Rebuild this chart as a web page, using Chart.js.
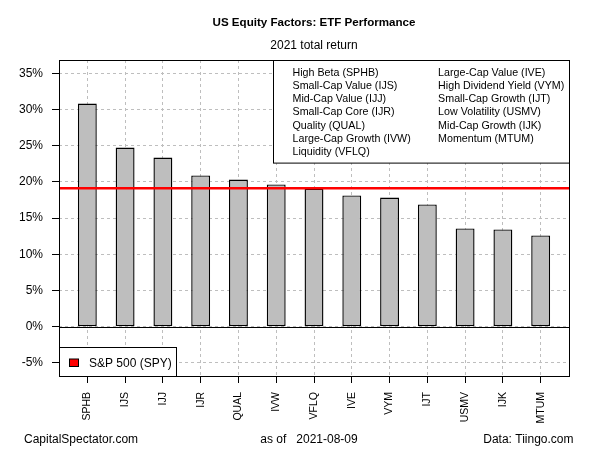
<!DOCTYPE html>
<html>
<head>
<meta charset="utf-8">
<script src="https://cdn.jsdelivr.net/npm/chart.js@4.4.0/dist/chart.umd.min.js"></script>
<style>
html,body{margin:0;padding:0;background:#ffffff;}
#wrap{width:600px;height:450px;position:relative;}
canvas{display:block;}
</style>
</head>
<body>
<div id="wrap"><canvas id="c" width="600" height="450"></canvas></div>
<script>
// ---- data ----
const tickers = ["SPHB","IJS","IJJ","IJR","QUAL","IVW","VFLQ","IVE","VYM","IJT","USMV","IJK","MTUM"];
const returns2021 = [30.83,24.76,23.38,20.90,20.34,19.66,19.10,18.14,17.86,16.90,13.59,13.45,12.62];
const spyReturn = 19.14;
const yTickValues = [-5,0,5,10,15,20,25,30,35];
const factorNames = ["High Beta","Small-Cap Value","Mid-Cap Value","Small-Cap Core","Quality","Large-Cap Growth","Liquidity",
                     "Large-Cap Value","High Dividend Yield","Small-Cap Growth","Low Volatility","Mid-Cap Growth","Momentum"];
const chartTitle = "US Equity Factors: ETF Performance";
const chartSubtitle = "2021 total return";
const footerLeft = "CapitalSpectator.com";
const footerCenter = "as of   2021-08-09";
const footerRight = "Data: Tiingo.com";
const benchmarkLabel = "S&P 500 (SPY)";

// ---- layout helpers ----
const FONT = '"Liberation Sans", Arial, Helvetica, sans-serif';
const slotPos = i => 1.5 + 2 * i;           // barplot-style slot centres (space = 1)
const xMin = 0, xMax = 2 * tickers.length + 1;

const decor = {
  id: 'decor',
  beforeDraw(chart) {
    const ctx = chart.ctx;
    ctx.save();
    ctx.fillStyle = '#ffffff';
    ctx.fillRect(0, 0, chart.width, chart.height);
    ctx.restore();
  },
  afterDatasetsDraw(chart) {
    const ctx = chart.ctx, a = chart.chartArea, ys = chart.scales.y;
    ctx.save();
    // zero line
    const y0 = Math.round(ys.getPixelForValue(0)) + 0.5;
    ctx.strokeStyle = '#000'; ctx.lineWidth = 1; ctx.setLineDash([]);
    ctx.beginPath(); ctx.moveTo(a.left, y0); ctx.lineTo(a.right, y0); ctx.stroke();

    // top-right legend
    const lw = 296.5, lh = 102.6;
    const lx = Math.round(a.right - lw) + 0.5, ly = Math.round(a.top) + 0.5;
    ctx.fillStyle = '#fff'; ctx.fillRect(lx, ly, lw, lh);
    ctx.strokeRect(lx, ly, Math.round(a.right) + 0.5 - lx, lh);
    ctx.fillStyle = '#000';
    ctx.font = '10.7px ' + FONT;
    ctx.textBaseline = 'middle'; ctx.textAlign = 'left';
    const half = Math.ceil(factorNames.length / 2);
    factorNames.forEach((n, i) => {
      const col = i < half ? 0 : 1, row = i < half ? i : i - half;
      ctx.fillText(n + ' (' + tickers[i] + ')', lx + 19 + col * 145.6, ly + 12.4 + row * 13.2);
    });

    // bottom-left legend
    const bw = 117, bh = 29;
    const bx = Math.round(a.left) + 0.5, by = Math.round(a.bottom - bh) + 0.5;
    ctx.fillStyle = '#fff'; ctx.fillRect(bx, by, bw, bh);
    ctx.strokeStyle = '#000'; ctx.strokeRect(bx, by, bw, Math.round(a.bottom) + 0.5 - by);
    ctx.fillStyle = '#ff0000';
    ctx.fillRect(bx + 10, by + 11.5, 9, 7.5);
    ctx.strokeRect(bx + 10, by + 11.5, 9, 7.5);
    ctx.fillStyle = '#000';
    ctx.font = '12px ' + FONT;
    ctx.fillText(benchmarkLabel, bx + 29.5, by + 16);

    // plot box
    ctx.strokeStyle = '#000'; ctx.lineWidth = 1;
    ctx.strokeRect(Math.round(a.left) + 0.5, Math.round(a.top) + 0.5,
                   Math.round(a.right) - Math.round(a.left), Math.round(a.bottom) - Math.round(a.top));
    ctx.restore();
  },
  afterDraw(chart) {
    const ctx = chart.ctx, a = chart.chartArea;
    const cx = (a.left + a.right) / 2;
    ctx.save();
    ctx.fillStyle = '#000';
    ctx.textBaseline = 'middle';
    ctx.textAlign = 'center';
    ctx.font = 'bold 11.6px ' + FONT;
    ctx.fillText(chartTitle, cx, 23);
    ctx.font = '12px ' + FONT;
    ctx.fillText(chartSubtitle, cx, 45.5);
    ctx.textAlign = 'left';
    ctx.fillText(footerLeft, 24, 440);
    ctx.textAlign = 'center';
    ctx.fillText(footerCenter, 309, 440);
    ctx.textAlign = 'right';
    ctx.fillText(footerRight, 573.5, 440);
    ctx.restore();
  }
};

new Chart(document.getElementById('c'), {
  data: {
    datasets: [
      {
        type: 'line',
        label: benchmarkLabel,
        data: [{x: xMin, y: spyReturn}, {x: xMax, y: spyReturn}],
        borderColor: '#ff0000',
        borderWidth: 2.4,
        pointRadius: 0,
        fill: false,
        order: 0
      },
      {
        type: 'bar',
        label: '2021 total return',
        data: returns2021.map((v, i) => ({x: slotPos(i), y: v})),
        backgroundColor: '#bebebe',
        borderColor: '#000000',
        borderWidth: 1.4,
        borderSkipped: false,
        categoryPercentage: 1,
        barPercentage: 0.5,
        order: 1
      }
    ]
  },
  options: {
    responsive: false,
    animation: false,
    devicePixelRatio: 1,
    layout: { padding: { top: 60, right: 31, left: 0, bottom: 0 } },
    plugins: {
      legend: { display: false },
      title: { display: false },
      tooltip: { enabled: false }
    },
    scales: {
      x: {
        type: 'linear',
        offset: false,
        min: xMin, max: xMax,
        afterBuildTicks: s => { s.ticks = tickers.map((t, i) => ({ value: slotPos(i) })); },
        afterFit: s => { s.height = 74; },
        ticks: {
          autoSkip: false,
          minRotation: 90, maxRotation: 90,
          padding: 9,
          color: '#000',
          font: { family: FONT, size: 10.5 },
          callback: (v, i) => tickers[i]
        },
        grid: {
          offset: false,
          color: '#bebebe', lineWidth: 1,
          drawTicks: true, tickLength: 7, tickColor: '#000', tickBorderDash: [], tickWidth: 1
        },
        border: { display: false, dash: [3, 3] }
      },
      y: {
        type: 'linear',
        min: -6.8, max: 36.85,
        afterBuildTicks: s => { s.ticks = yTickValues.map(v => ({ value: v })); },
        afterFit: s => { s.width = 59; },
        ticks: {
          padding: 9,
          color: '#000',
          font: { family: FONT, size: 12 },
          callback: v => v + '%'
        },
        grid: {
          color: '#bebebe', lineWidth: 1,
          drawTicks: true, tickLength: 7, tickColor: '#000', tickBorderDash: [], tickWidth: 1
        },
        border: { display: false, dash: [3, 3] }
      }
    }
  },
  plugins: [decor]
});
</script>
</body>
</html>
